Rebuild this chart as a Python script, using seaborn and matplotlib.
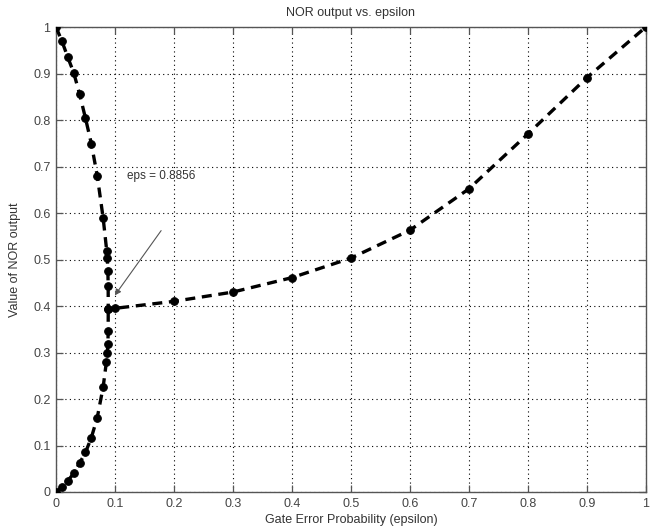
import matplotlib
matplotlib.use("Agg")
import matplotlib.pyplot as plt
import seaborn as sns
import pandas as pd
from matplotlib.ticker import FuncFormatter

# Upper branch (starting at 1) continuing to the right-hand curve
upper_eps = [0, 0.01, 0.02, 0.03, 0.04, 0.05, 0.06, 0.07, 0.08, 0.086, 0.087,
             0.088, 0.0885, 0.0886, 0.1, 0.2, 0.3, 0.4, 0.5, 0.6, 0.7, 0.8, 0.9, 1.0]
upper_val = [1.0, 0.97, 0.935, 0.902, 0.856, 0.804, 0.749, 0.680, 0.589, 0.519, 0.503,
             0.475, 0.443, 0.393, 0.395, 0.410, 0.430, 0.461, 0.503, 0.563, 0.652, 0.770, 0.891, 1.0]
# Lower branch (starting at 0)
lower_eps = [0, 0.01, 0.02, 0.03, 0.04, 0.05, 0.06, 0.07, 0.08, 0.0855, 0.087,
             0.088, 0.0885, 0.0886]
lower_val = [0.0, 0.010, 0.024, 0.040, 0.062, 0.085, 0.117, 0.160, 0.226, 0.280, 0.298,
             0.318, 0.346, 0.393]

ticks = [0, 0.1, 0.2, 0.3, 0.4, 0.5, 0.6, 0.7, 0.8, 0.9, 1.0]

sns.set_style("white", {"xtick.bottom": True, "ytick.left": True,
                        "xtick.top": True, "ytick.right": True})
plt.rcParams["font.family"] = ["Liberation Sans", "DejaVu Sans"]

fig = plt.figure(figsize=(6.57, 5.30), dpi=100)
ax = fig.add_axes([0.0852, 0.0717, 0.8978, 0.8773])

df_up = pd.DataFrame({"eps": upper_eps, "val": upper_val})
df_lo = pd.DataFrame({"eps": lower_eps, "val": lower_val})
for df in (df_up, df_lo):
    sns.lineplot(data=df, x="eps", y="val", ax=ax, sort=False, estimator=None,
                 color="black", linewidth=2.4, linestyle=(0, (3, 2)),
                 marker="o", markersize=5.5, markeredgecolor="black",
                 markerfacecolor="black", zorder=3)

ax.set_xlim(0, 1)
ax.set_ylim(0, 1)
ax.set_xticks(ticks)
ax.set_yticks(ticks)
fmt = FuncFormatter(lambda v, p: "%g" % round(v, 2))
ax.xaxis.set_major_formatter(fmt)
ax.yaxis.set_major_formatter(fmt)
ax.grid(True, color="black", linestyle=(0, (1, 3)), linewidth=0.8)
ax.tick_params(direction="in", length=5, width=0.9, color="#555555",
               labelsize=9, top=True, right=True, bottom=True, left=True,
               labelcolor="#444444", pad=4)
for s in ax.spines.values():
    s.set_color("#555555")
    s.set_linewidth(1.0)

ax.set_title("NOR output vs. epsilon", fontsize=9, color="#333333", pad=8)
ax.set_xlabel("Gate Error Probability (epsilon)", fontsize=9, color="#333333", labelpad=3)
ax.set_ylabel("Value of NOR output", fontsize=9, color="#333333", labelpad=9)

ax.annotate("", xy=(0.097, 0.418), xytext=(0.181, 0.567),
            arrowprops=dict(arrowstyle="-|>", color="#555555", lw=0.8,
                            mutation_scale=9))
ax.text(0.12, 0.68, "eps = 0.8856", fontsize=8.5, color="#333333",
        ha="left", va="center")

fig.savefig("out.png", dpi=100)
